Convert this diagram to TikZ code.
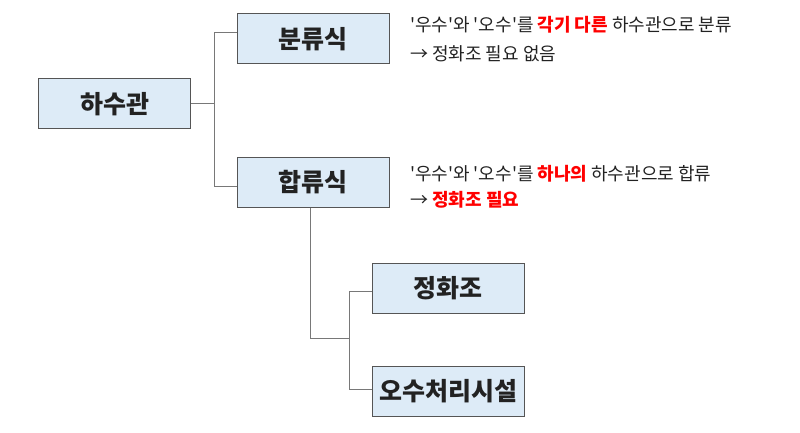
\documentclass[tikz,border=0pt]{standalone}
\usepackage{fontspec}
\setmainfont{Noto Sans CJK KR}
\newfontfamily\notefont{Noto Sans CJK KR}
\usepackage{tikz}

\definecolor{boxfill}{RGB}{221,235,247}
\definecolor{boxline}{RGB}{85,85,85}
\definecolor{linkgray}{RGB}{120,120,120}
\definecolor{notered}{RGB}{255,0,0}
\definecolor{notetext}{RGB}{34,34,34}

\tikzset{
  box/.style={draw=boxline, fill=boxfill, line width=1pt, minimum width=152pt, minimum height=50pt, inner sep=0pt, text=notetext, font=\fontsize{25}{25}\selectfont\bfseries},
  link/.style={draw=linkgray, line width=1pt},
  note/.style={anchor=base west, inner sep=0pt, text=notetext, font=\notefont\fontsize{18}{18}\selectfont}
}

\begin{document}
\begin{tikzpicture}[x=1pt,y=-1pt]
\useasboundingbox (0,0) rectangle (800,433);

\node[box] (root) at (114.5,104) {하수관};
\node[box] (sep) at (313,39) {분류식};
\node[box] (comb) at (313,182) {합류식};
\node[box] (tank) at (448,288) {정화조};
\node[box] (plant) at (448,391) {오수처리시설};

\coordinate (j1) at (214,104);
\coordinate (j2) at (349,338);

\draw[link] (root.east) -- (j1);
\draw[link] (j1) |- ([yshift=6pt]sep.west);
\draw[link] (j1) |- ([yshift=-4.5pt]comb.west);
\draw[link] ([xshift=-3pt]comb.south) |- (j2);
\draw[link] (j2) |- ([yshift=-3pt]tank.west);
\draw[link] (j2) |- ([yshift=2pt]plant.west);

\node[note] (sepa) at (410,31.5) {'우수'와 '오수'를 \textcolor{notered}{\bfseries 각기 다른} 하수관으로 분류};
\node[note] (sepb) at (410,60.5) {→ 정화조 필요 없음};
\node[note] (comba) at (410,180.5) {'우수'와 '오수'를 \textcolor{notered}{\bfseries 하나의} 하수관으로 합류};
\node[note] (combb) at (410,206.5) {→ \textcolor{notered}{\bfseries 정화조 필요}};
\end{tikzpicture}
\end{document}
